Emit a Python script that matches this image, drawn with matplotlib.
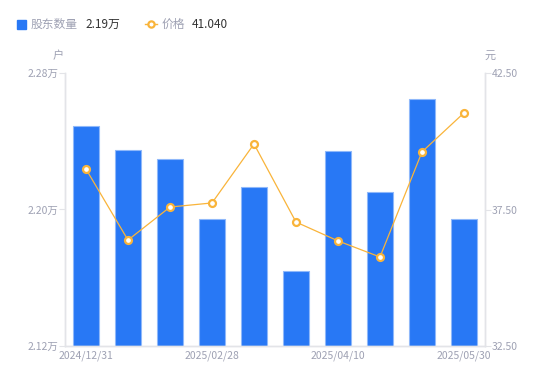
import numpy as np
import matplotlib.pyplot as plt

plt.rcParams['font.family'] = ['Noto Sans CJK SC', 'DejaVu Sans']

dates = ['2024/12/31', '', '', '2025/02/28', '', '', '2025/04/10', '', '', '2025/05/30']
holders = [2.249, 2.235, 2.2296, 2.1944, 2.2132, 2.1639, 2.2343, 2.2102, 2.2648, 2.1944]
price = [38.98, 36.38, 37.59, 37.74, 39.90, 37.04, 36.35, 35.76, 39.61, 41.04]

bar_color = '#2878f5'
line_color = '#f9b43a'
grey = '#9ea1b3'
axis_color = '#e3e4e8'

fig = plt.figure(figsize=(5.5, 3.81), dpi=100)
ax = fig.add_axes([65 / 550, 35 / 381, 420 / 550, 273 / 381])
ax2 = ax.twinx()

x = np.arange(len(holders))
ax.bar(x, holders, width=0.6, color=bar_color, edgecolor='#8fb8fa', linewidth=0.8, zorder=2)
ax.set_xlim(-0.5, len(holders) - 0.5)
ax.set_ylim(2.12, 2.28)
ax.set_yticks([2.12, 2.20, 2.28])
ax.set_yticklabels(['2.12万', '2.20万', '2.28万'])

ax2.plot(x, price, color=line_color, linewidth=0.9, marker='o', markersize=5,
         markerfacecolor='white', markeredgecolor=line_color, markeredgewidth=1.6, zorder=3)
ax2.set_ylim(32.5, 42.5)
ax2.set_yticks([32.5, 37.5, 42.5])
ax2.set_yticklabels(['32.50', '37.50', '42.50'])

ax.set_xticks(x)
ax.set_xticklabels(dates)

for a in (ax, ax2):
    a.spines['top'].set_visible(False)
    for s in ('left', 'right', 'bottom'):
        a.spines[s].set_color(axis_color)
        a.spines[s].set_linewidth(1)
    a.tick_params(axis='y', colors=axis_color, labelcolor=grey, labelsize=7.5, length=4, width=0.8, pad=1)
    a.tick_params(axis='x', length=0, labelcolor=grey, labelsize=7.5, pad=3)

fig.text(58 / 550, 1 - 56 / 381, '户', color=grey, fontsize=8, ha='center', va='center')
fig.text(490 / 550, 1 - 56 / 381, '元', color=grey, fontsize=8, ha='center', va='center')

# legend drawn by hand
fig.patches.append(plt.Rectangle((17 / 550, 1 - 29 / 381), 9 / 550, 9 / 381, color=bar_color,
                                 transform=fig.transFigure, figure=fig))
fig.text(31 / 550, 1 - 24 / 381, '股东数量', color=grey, fontsize=8.5, va='center')
fig.text(85 / 550, 1 - 24 / 381, '2.19万', color='#333333', fontsize=8.5, va='center')
fig.lines.append(plt.Line2D([145 / 550, 157 / 550], [1 - 24 / 381, 1 - 24 / 381], color=line_color,
                            linewidth=1, marker='o', markevery=[0], markersize=0,
                            transform=fig.transFigure, figure=fig))
fig.lines.append(plt.Line2D([151 / 550], [1 - 24 / 381], color=line_color, marker='o', markersize=4.5,
                            markerfacecolor='white', markeredgewidth=1.6,
                            transform=fig.transFigure, figure=fig))
fig.text(162 / 550, 1 - 24 / 381, '价格', color=grey, fontsize=8.5, va='center')
fig.text(192 / 550, 1 - 24 / 381, '41.040', color='#333333', fontsize=8.5, va='center')

fig.savefig('out.png', dpi=100)
